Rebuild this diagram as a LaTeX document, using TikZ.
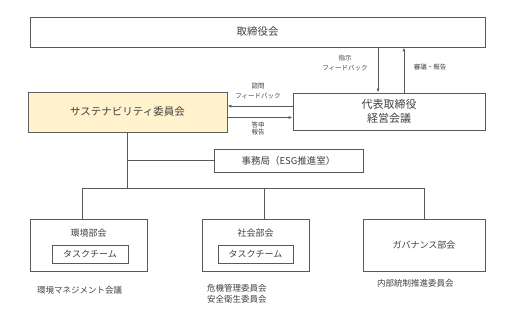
\documentclass[tikz,border=0pt]{standalone}
\usepackage{fontspec}
\setmainfont{Noto Sans CJK JP}
\usetikzlibrary{arrows.meta, positioning, calc}
\definecolor{lineGray}{HTML}{595959}
\definecolor{textGray}{HTML}{404040}
\definecolor{paleYellow}{HTML}{FFF2CC}

\begin{document}
\begin{tikzpicture}[
    x=1pt, y=-1pt,
    box/.style={rectangle, draw=lineGray, line width=0.8pt, align=center, text=textGray, font=\fontsize{10.5}{14}\selectfont, inner sep=0pt},
    subbox/.style={rectangle, draw=lineGray, line width=0.8pt, align=center, text=textGray, font=\fontsize{9}{11}\selectfont, inner sep=0pt},
    subtitle/.style={align=center, text=textGray, font=\fontsize{9}{11}\selectfont, inner sep=0pt},
    arrow/.style={-{Latex[length=4pt, width=3pt]}, line width=0.8pt, draw=lineGray},
    link/.style={line width=0.8pt, draw=lineGray},
    msg_label/.style={font=\fontsize{6.5}{7.5}\selectfont, text=textGray, align=center, inner sep=0pt},
    note/.style={font=\fontsize{8.5}{11}\selectfont, text=textGray, align=left, inner sep=0pt}
]
    \useasboundingbox (0,0) rectangle (516,310);

    % Top level
    \node[box, minimum width=455pt, minimum height=30pt] (board) at (257.5,32) {取締役会};

    % Committee and management
    \node[box, fill=paleYellow, draw=gray!75!black, minimum width=199pt, minimum height=40pt] (susc) at (127.5,112) {サステナビリティ委員会};
    \node[box, minimum width=192pt, minimum height=37pt, font=\fontsize{11}{14}\selectfont] (exec) at (389,111.5) {代表取締役\\経営会議};

    % Board <-> management
    \draw[arrow] ([xshift=-11pt]exec.north |- board.south) -- ([xshift=-11pt]exec.north);
    \draw[arrow] ([xshift=15pt]exec.north) -- ([xshift=15pt]exec.north |- board.south);
    \node[msg_label] at (345,63) {指示\\\rule{0pt}{8pt}フィードバック};
    \node[msg_label] at (430,67) {審議・報告};

    % Management <-> committee
    \draw[arrow] ([yshift=5.5pt]exec.west) -- ([yshift=5.5pt]exec.west -| susc.east);
    \draw[arrow] ([yshift=-5.5pt]susc.east) -- ([yshift=-5.5pt]susc.east -| exec.west);
    \node[msg_label] at (258,91) {諮問\\\rule{0pt}{8pt}フィードバック};
    \node[msg_label, font=\fontsize{6.5}{7}\selectfont] at (258,128.5) {答申\\報告};

    % Secretariat
    \node[box, minimum width=149pt, minimum height=23pt, font=\fontsize{9.5}{12}\selectfont] (office) at (288.5,160.5) {事務局（ESG推進室）};
    \draw[link] (susc.south) -- (127.5,188);
    \draw[link] (127.5,160.5) -- (office.west);

    % Sub-committees
    \node[subbox, minimum width=117pt, minimum height=52pt] (env) at (88.5,245) {};
    \node[subbox, minimum width=107pt, minimum height=52pt] (soc) at (255.5,245) {};
    \node[subbox, minimum width=122pt, minimum height=52pt] (gov) at (424,245) {ガバナンス部会};
    \node[subtitle] (envtitle) at (88.5,233) {環境部会};
    \node[subtitle] (soctitle) at (255.5,233) {社会部会};
    \node[subbox, minimum width=76pt, minimum height=18pt] (envtask) at (90,254) {タスクチーム};
    \node[subbox, minimum width=75pt, minimum height=18pt] (soctask) at (255.5,254) {タスクチーム};

    % Distribution line
    \coordinate (jenv) at (82,188);
    \coordinate (jsoc) at (264,188);
    \coordinate (jgov) at (424,188);
    \draw[link] (jenv) -- (jgov);
    \draw[link] (jenv) -- (jenv |- env.north);
    \draw[link] (jsoc) -- (jsoc |- soc.north);
    \draw[link] (jgov) -- (gov.north);

    % Meetings under each sub-committee
    \node[note, anchor=west] (envmeet) at (37,290) {環境マネジメント会議};
    \node[note, anchor=west] (socmeet) at (207,293.5) {危機管理委員会\\安全衛生委員会};
    \node[note, anchor=west] (govmeet) at (377,283) {内部統制推進委員会};

\end{tikzpicture}
\end{document}
